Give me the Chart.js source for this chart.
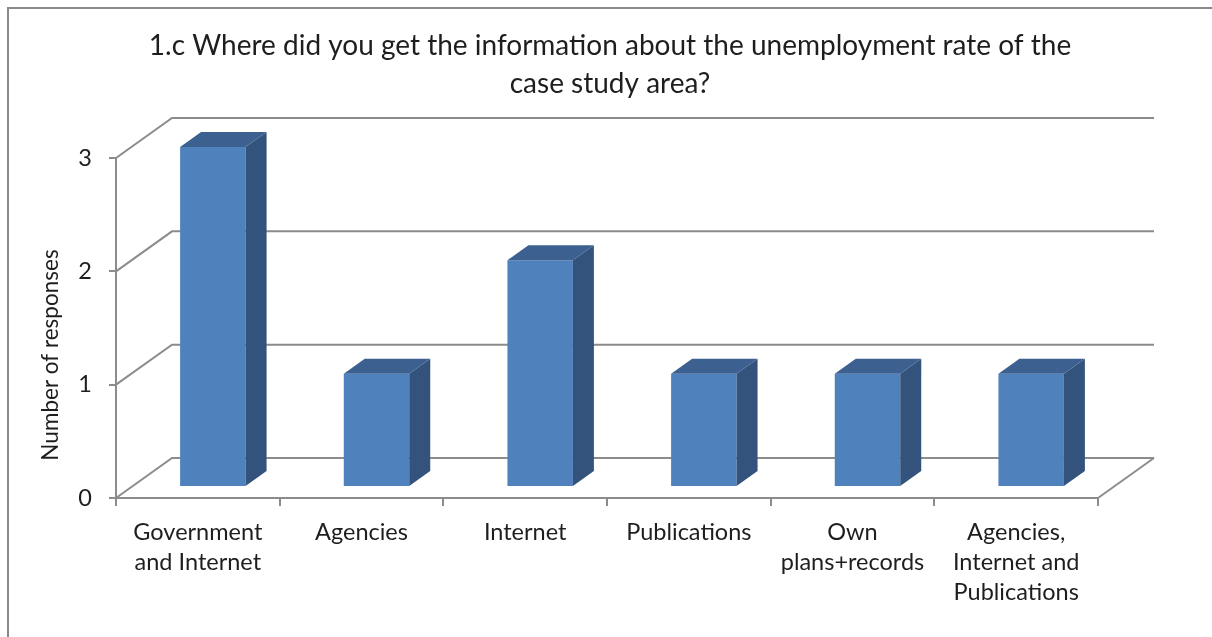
<!DOCTYPE html>
<html>
<head>
<meta charset="utf-8">
<script src="https://cdn.jsdelivr.net/npm/chart.js@4.4.0/dist/chart.umd.min.js"></script>
<style>
	html, body { margin: 0; padding: 0; background: #fff; }
</style>
</head>
<body>
<canvas id="sources-chart" width="1212" height="637"></canvas>
<script>
const categories = [
	["Government", "and Internet"],
	["Agencies"],
	["Internet"],
	["Publications"],
	["Own", "plans+records"],
	["Agencies,", "Internet and", "Publications"],
];
const responses = [3, 1, 2, 1, 1, 1];
const yTicks = [0, 1, 2, 3];
const titleLines = [
	"1.c Where did you get the information about the unemployment rate of the",
	"case study area?",
];
const yTitle = "Number of responses";

const FONT = "Lato";
const LINE = "#8c8c8c";
const TEXT = "#1e1e1e";
// depth of the walls / floor
const DX = 56, DY = -40;
// bars sit part way into the depth
const BAR_DX = 15, BAR_DY = -11;
const SIDE_DX = 21, SIDE_DY = -15;
const FRONT = "#4f81bd", SIDE = "#33537d", TOP = "#3c6090";

const box3d = {
	id: "box3d",
	beforeDraw(chart) {
		const ctx = chart.ctx;
		ctx.save();
		ctx.strokeStyle = "#8a8a8a";
		ctx.lineWidth = 2;
		ctx.beginPath();
		ctx.moveTo(8, chart.height);
		ctx.lineTo(8, 8);
		ctx.lineTo(chart.width, 8);
		ctx.stroke();
		ctx.restore();
	},
	beforeDatasetsDraw(chart) {
		const { ctx, chartArea: a, scales: { y } } = chart;
		ctx.save();
		ctx.strokeStyle = LINE;
		ctx.lineWidth = 2;
		yTicks.forEach((v) => {
			const py = y.getPixelForValue(v);
			ctx.beginPath();
			ctx.moveTo(a.left, py);
			ctx.lineTo(a.left + DX, py + DY);
			ctx.lineTo(a.right + DX, py + DY);
			ctx.stroke();
		});
		ctx.beginPath();
		ctx.moveTo(a.right, a.bottom);
		ctx.lineTo(a.right + DX, a.bottom + DY);
		ctx.stroke();
		ctx.restore();
		// push the bars back into the box
		ctx.save();
		ctx.translate(BAR_DX, BAR_DY);
	},
	afterDatasetsDraw(chart) {
		const ctx = chart.ctx;
		chart.getDatasetMeta(0).data.forEach((bar) => {
			const { x, y, base, width } = bar.getProps(["x", "y", "base", "width"], true);
			const l = x - width / 2, r = x + width / 2;
			ctx.fillStyle = SIDE;
			ctx.beginPath();
			ctx.moveTo(r, y);
			ctx.lineTo(r + SIDE_DX, y + SIDE_DY);
			ctx.lineTo(r + SIDE_DX, base + SIDE_DY);
			ctx.lineTo(r, base);
			ctx.closePath();
			ctx.fill();
			ctx.fillStyle = TOP;
			ctx.beginPath();
			ctx.moveTo(l, y);
			ctx.lineTo(l + SIDE_DX, y + SIDE_DY);
			ctx.lineTo(r + SIDE_DX, y + SIDE_DY);
			ctx.lineTo(r, y);
			ctx.closePath();
			ctx.fill();
		});
		ctx.restore();
	},
	afterDraw(chart) {
		const ctx = chart.ctx;
		ctx.save();
		ctx.translate(51, 355);
		ctx.rotate(-Math.PI / 2);
		ctx.font = "22.5px " + FONT;
		ctx.fillStyle = TEXT;
		ctx.textAlign = "center";
		ctx.textBaseline = "middle";
		ctx.fillText(yTitle, 0, 0);
		ctx.restore();
	},
};

new Chart(document.getElementById("sources-chart"), {
	type: "bar",
	data: {
		labels: categories,
		datasets: [
			{
				label: yTitle,
				data: responses,
				backgroundColor: FRONT,
				borderWidth: 0,
				categoryPercentage: 1,
				barPercentage: 0.4,
				clip: false,
			},
		],
	},
	plugins: [box3d],
	options: {
		responsive: false,
		animation: false,
		layout: { padding: { left: 8, top: 0, right: 0, bottom: 0 } },
		plugins: {
			legend: { display: false },
			tooltip: { enabled: false },
			title: {
				display: true,
				text: titleLines,
				color: TEXT,
				font: { family: FONT, size: 28, weight: "normal", lineHeight: 38 / 28 },
				padding: { top: 27, bottom: 55 },
			},
		},
		scales: {
			x: {
				grid: { drawOnChartArea: false, tickLength: 8, color: LINE, lineWidth: 2, offset: true },
				border: { color: LINE, width: 2 },
				ticks: {
					color: TEXT,
					font: { family: FONT, size: 23.5, lineHeight: 30 / 23.5 },
					padding: 11,
					maxRotation: 0,
					autoSkip: false,
				},
				afterFit(s) { s.height = 139; },
			},
			y: {
				min: 0,
				max: 3,
				grid: { drawOnChartArea: false, tickLength: 7, color: LINE, lineWidth: 2 },
				border: { color: LINE, width: 2 },
				ticks: {
					stepSize: 1,
					color: TEXT,
					font: { family: FONT, size: 23.5 },
					padding: 17,
				},
				afterFit(s) { s.width = 108; },
			},
			yRight: {
				position: "right",
				grid: { display: false },
				border: { display: false },
				ticks: { display: false },
				afterFit(s) { s.width = 114; },
			},
		},
	},
});
</script>
</body>
</html>
